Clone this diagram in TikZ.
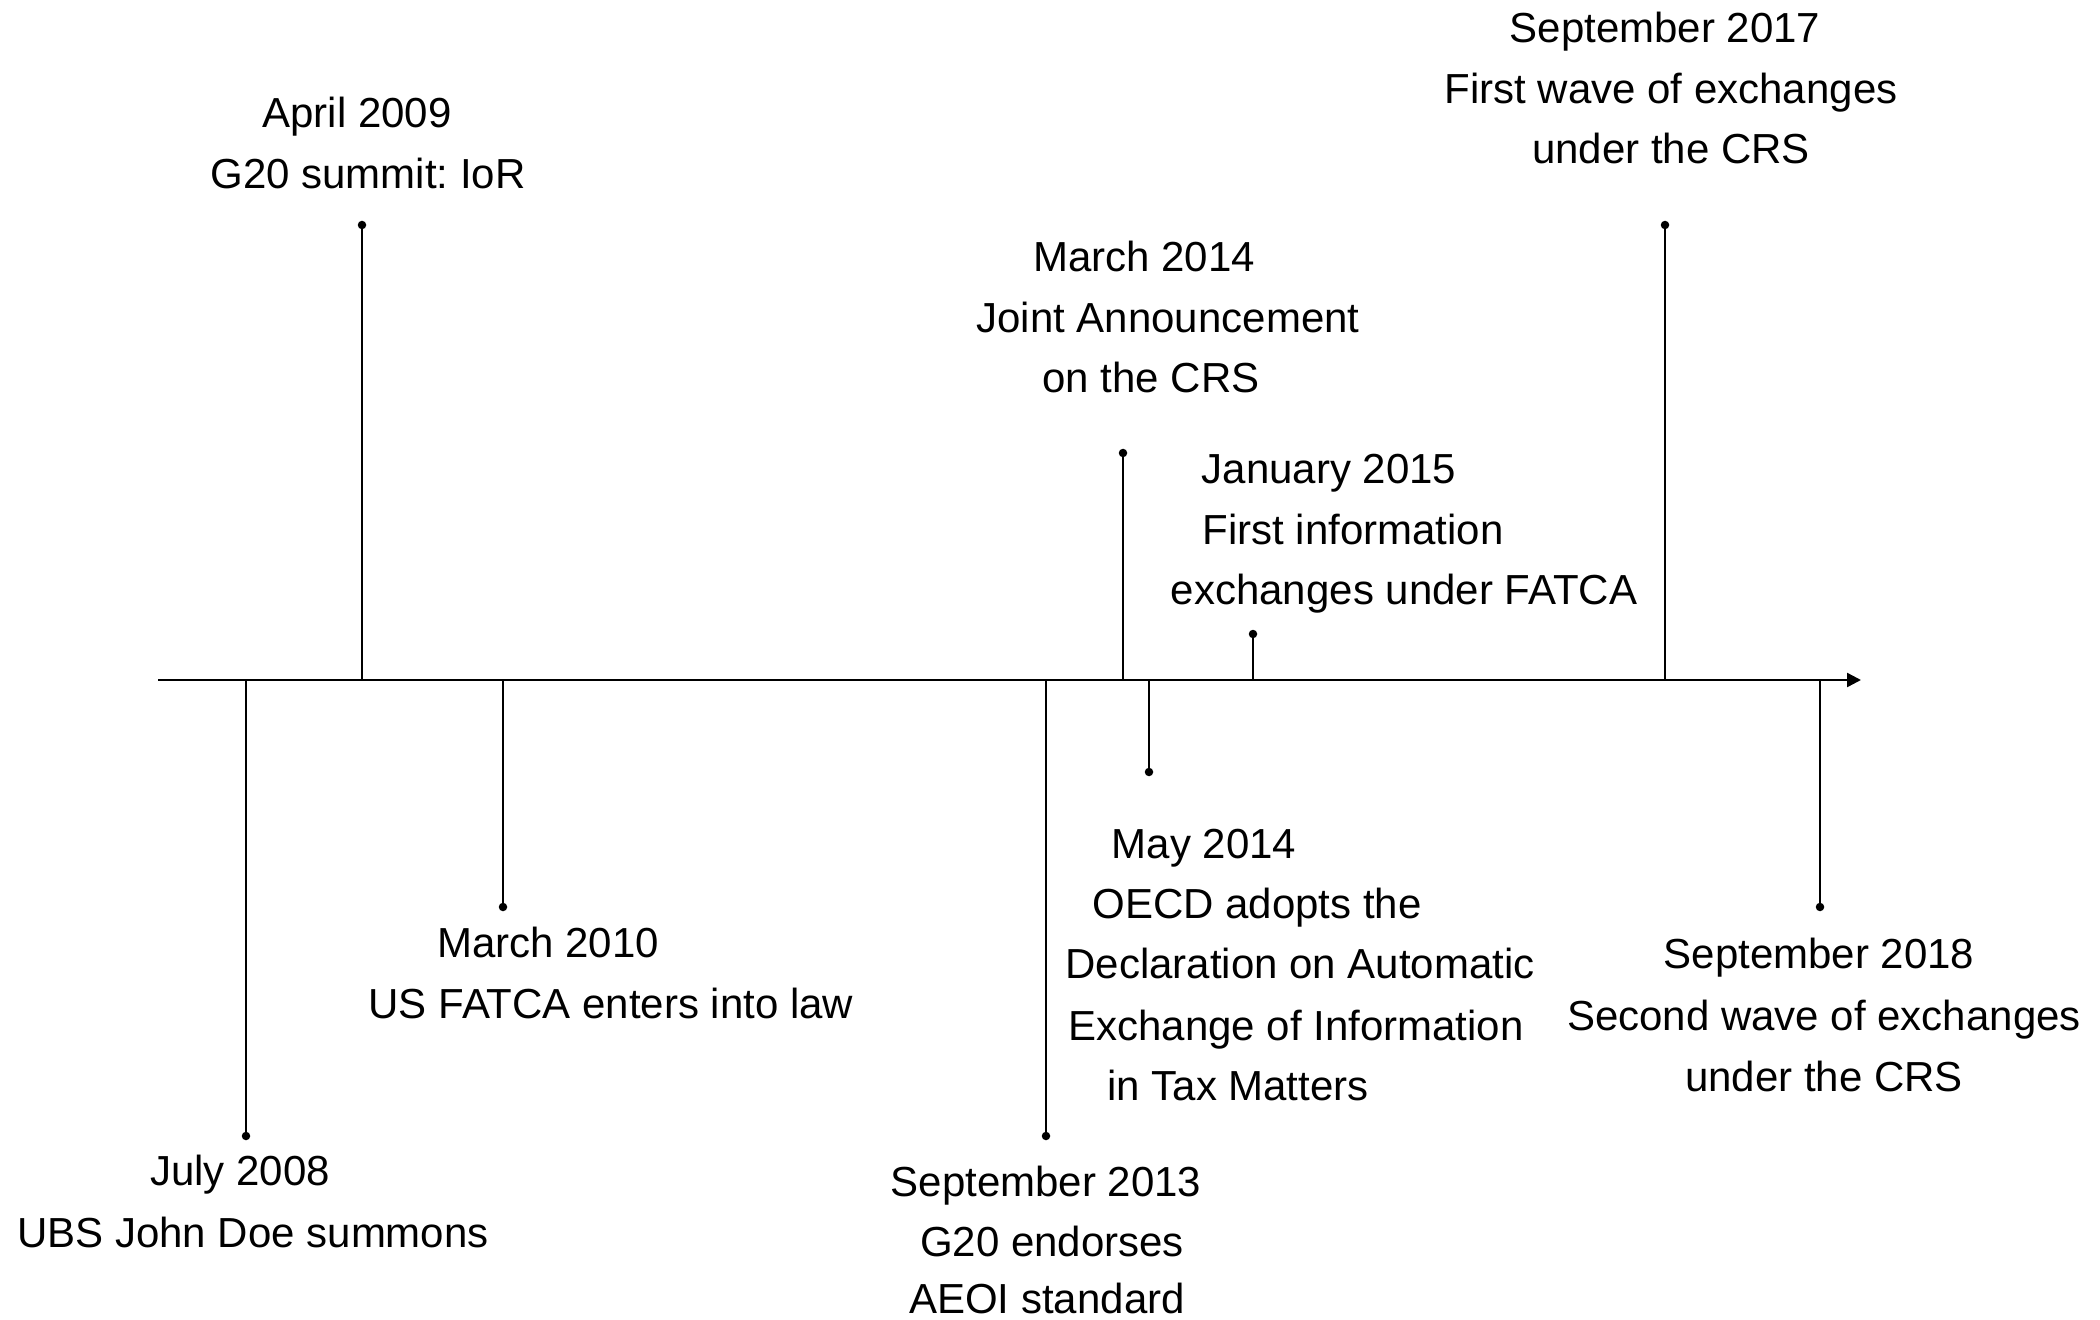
\documentclass[tikz,border=0pt]{standalone}
\usepackage{fontspec}
\setmainfont{Liberation Sans}
\usetikzlibrary{arrows.meta}
\frenchspacing
\begin{document}
\begin{tikzpicture}[x=1bp,y=-1bp,
  lbl/.style={anchor=base,inner sep=0pt,font=\fontsize{42bp}{50bp}\selectfont},
  dot/.style={circle,fill=black,inner sep=0pt,minimum size=8.5bp},
  tick/.style={line width=2.4bp,black},
  axisline/.style={line width=2.4bp,black,-{Triangle[length=14bp,width=14bp]}}]
\fill[white] (0,0) rectangle (2100,1320);
\useasboundingbox (0,0) rectangle (2100,1320);
% axis
\coordinate (ax0) at (158,680);
\coordinate (ax1) at (1861,680);
\draw[axisline] (ax0) -- (ax1);
% ticks
\foreach \n/\x/\y in {t1/246/1136, t2/362/225, t3/503/907, t4/1046/1136, t5/1123/453, t6/1149/772, t7/1253/634, t8/1665/225, t9/1820/907}{
  \coordinate (\n a) at (\x,680);
  \node[dot] (\n d) at (\x,\y) {};
  \draw[tick] (\n a) -- (\n d.center);
}
% labels
\node[lbl] (l1a) at (240,1185) {July 2008};
\node[lbl] (l1b) at (253,1247) {UBS John Doe summons};
\node[lbl] (l2a) at (357,128) {April 2009};
\node[lbl] (l2b) at (368,189) {G20 summit: IoR};
\node[lbl] (l3a) at (548,957) {March 2010};
\node[lbl] (l3b) at (611,1018) {US FATCA enters into law};
\node[lbl] (l4a) at (1046,1196) {September 2013};
\node[lbl] (l4b) at (1052,1256) {G20 endorses};
\node[lbl] (l4c) at (1047,1313) {AEOI standard};
\node[lbl] (l5a) at (1144,272) {March 2014};
\node[lbl] (l5b) at (1168,333) {Joint Announcement};
\node[lbl] (l5c) at (1151,393) {on the CRS};
\node[lbl] (l6a) at (1204,858) {May 2014};
\node[lbl] (l6b) at (1257,918) {OECD adopts the};
\node[lbl] (l6c) at (1300,978) {Declaration on Automatic};
\node[lbl] (l6d) at (1296,1040) {Exchange of Information};
\node[lbl] (l6e) at (1238,1100) {in Tax Matters};
\node[lbl] (l7a) at (1329,483) {January 2015};
\node[lbl] (l7b) at (1353,544) {First information};
\node[lbl] (l7c) at (1404,604) {exchanges under FATCA};
\node[lbl] (l8a) at (1665,43) {September 2017};
\node[lbl] (l8b) at (1671,104) {First wave of exchanges};
\node[lbl] (l8c) at (1671,164) {under the CRS};
\node[lbl] (l9a) at (1819,968) {September 2018};
\node[lbl] (l9b) at (1824,1030) {Second wave of exchanges};
\node[lbl] (l9c) at (1824,1091) {under the CRS};
\end{tikzpicture}
\end{document}
